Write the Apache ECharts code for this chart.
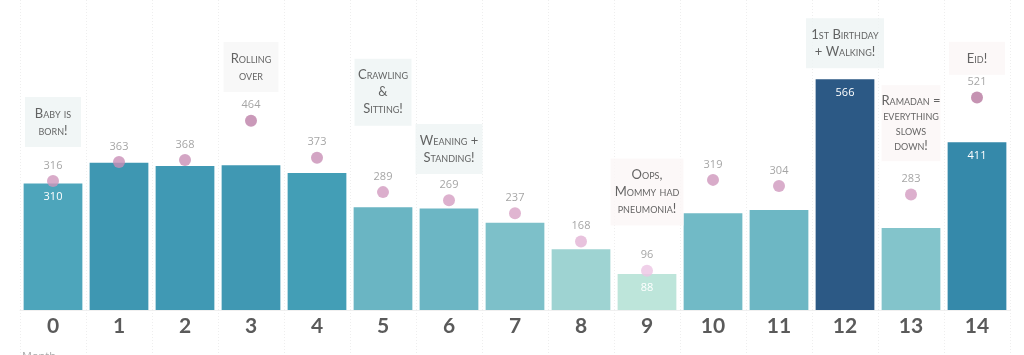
<!DOCTYPE html>
<html>
<head>
<meta charset="utf-8">
<script src="https://cdn.jsdelivr.net/npm/echarts@6/dist/echarts.min.js"></script>
<style>
  html, body { margin: 0; padding: 0; background: #fff; }
  #chart { width: 1024px; height: 355px; }
</style>
</head>
<body>
<div id="chart"></div>
<script>
// ---- data ----
const months = ['0','1','2','3','4','5','6','7','8','9','10','11','12','13','14'];
const barValues = [310, 361, 353, 355, 336, 252, 249, 214, 149, 88, 237, 245, 566, 201, 411];
const dotValues = [316, 363, 368, 464, 373, 289, 269, 237, 168, 96, 319, 304, null, 283, 521];
const barLabelMonths = [0, 9, 12, 14];
const noteMonths = [0, 3, 5, 6, 9, 12, 13, 14];
const noteLevels = [461, 596, 534, 395, 289, 654, 458, 617];
const noteTexts = [
  'Baby is\nborn!',
  'Rolling\nover',
  'Crawling\n&\nSitting!',
  'Weaning +\nStanding!',
  'Oops,\nMommy had\npneumonia!',
  '1st Birthday\n+ Walking!',
  'Ramadan =\neverything\nslows\ndown!',
  'Eid!'
];
const noteKinds = ['blue', 'grey', 'blue', 'blue', 'pink', 'blue', 'pink', 'pink'];

// ---- styles ----
const noteBg = { blue: '#eef4f4', grey: '#f6f6f6', pink: '#fbf6f6' };
const noteWidth = [40, 39, 41, 51, 57, 62, 43, 40];

const chart = echarts.init(document.getElementById('chart'));

const barData = barValues.map((v, i) => ({
  value: v,
  label: { show: barLabelMonths.indexOf(i) >= 0 }
}));
const dotData = [];
dotValues.forEach((v, i) => { if (v != null) dotData.push([i, v]); });
const noteData = noteMonths.map((m, k) => ({
  value: [m, noteLevels[k]],
  label: {
    formatter: noteTexts[k],
    backgroundColor: noteBg[noteKinds[k]],
    width: noteWidth[k],
    lineHeight: k === 6 ? 15 : 17
  }
}));

chart.setOption({
  backgroundColor: '#ffffff',
  animation: false,
  grid: { left: 20, right: 14, top: 0, bottom: 45, containLabel: false, outerBoundsMode: 'none' },
  xAxis: {
    type: 'category',
    data: months,
    boundaryGap: true,
    axisLine: { show: true, lineStyle: { color: '#f0f0f0', width: 1 } },
    axisTick: {
      show: true,
      inside: false,
      length: 45,
      lineStyle: { color: '#eeeeee', type: [1, 2], width: 1 }
    },
    axisLabel: {
      show: true,
      margin: 6,
      fontFamily: 'Lato',
      fontWeight: 'bold',
      fontSize: 21,
      color: '#5a5a5a'
    },
    splitLine: { show: true, lineStyle: { color: '#eeeeee', type: [1, 2], width: 1 } }
  },
  yAxis: {
    type: 'value',
    min: 0,
    max: 760,
    show: false,
    splitLine: { show: false }
  },
  visualMap: [
    {
      show: false,
      seriesIndex: 0,
      min: 88,
      max: 566,
      inRange: { color: ['#bde5da', '#80c2ca', '#45a0b8', '#2e7fa4', '#2c5985'] }
    },
    {
      show: false,
      seriesIndex: 1,
      dimension: 1,
      min: 96,
      max: 521,
      inRange: { color: ['#ecc4e4', '#d8a2c6', '#c78db4', '#b7789f'] }
    }
  ],
  series: [
    {
      type: 'bar',
      data: barData,
      barCategoryGap: '11%',
      z: 2,
      label: {
        position: 'insideTop',
        distance: 8,
        color: '#ffffff',
        fontFamily: 'Open Sans',
        fontSize: 11
      }
    },
    {
      type: 'scatter',
      data: dotData,
      symbol: 'circle',
      symbolSize: 12,
      z: 3,
      label: {
        show: true,
        position: 'top',
        distance: 4,
        color: '#8f8f8f',
        fontFamily: 'Open Sans',
        fontSize: 11,
        formatter: p => String(p.value[1])
      }
    },
    {
      type: 'scatter',
      data: noteData,
      symbolSize: 0,
      z: 5,
      silent: true,
      label: {
        show: true,
        position: 'inside',
        align: 'center',
        verticalAlign: 'middle',
        color: '#3d3d3d',
        fontFamily: 'Lato',
        fontStyle: 'small-caps',
        fontSize: 13,
        padding: [8, 8]
      }
    }
  ],
  graphic: [
    {
      type: 'text',
      left: 22,
      top: 351,
      style: { text: 'Month', fill: '#aaaaaa', fontSize: 11, fontFamily: 'Open Sans' }
    }
  ]
});
</script>
</body>
</html>
